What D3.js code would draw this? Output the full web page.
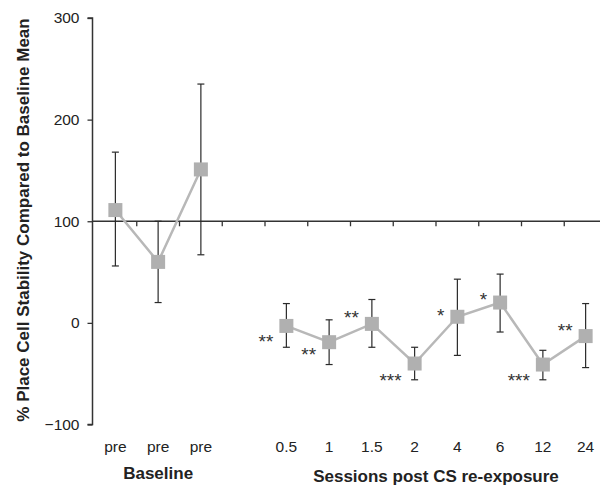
<!DOCTYPE html>
<html>
<head>
<meta charset="utf-8">
<script src="https://cdn.jsdelivr.net/npm/d3@7"></script>
<style>
  body { margin: 0; background: #fff; }
  text { font-family: "Liberation Sans", Arial, sans-serif; }
</style>
</head>
<body>
<div id="chart"></div>
<script>
// values (% stability vs baseline mean)
const labels = ["pre", "pre", "pre", "", "0.5", "1", "1.5", "2", "4", "6", "12", "24"];
const means = [111, 60, 151, null, -3, -19, -1, -40, 6, 20, -41, -13];
const upper = [168, 100, 235, null, 19, 3, 23, -24, 43, 48, -27, 19];
const lower = [56, 20, 67, null, -24, -41, -24, -56, -32, -9, -56, -44];
const stars = ["", "", "", "", "**", "**", "**", "***", "*", "*", "***", "**"];
const starY = [null, null, null, null, -15, -28, 9, -53, 11, 26, -53, -4];
const yTicks = [300, 200, 100, 0, -100];
const groups = [
  { name: "Baseline", from: 0, to: 2 },
  { name: "Sessions post CS re-exposure", from: 4, to: 11 }
];

const width = 600, height = 485;
const axisX = 92.5;

const svg = d3.select('#chart')
  .append('svg')
  .attr('width', width)
  .attr('height', height);

const x = d3.scaleBand()
  .domain(d3.range(labels.length))
  .range([94, 607]);
const cx = i => x(i) + x.bandwidth() / 2;

const y = d3.scaleLinear()
  .domain([-100, 300])
  .range([424.5, 18]);

// y axis
const yAxis = svg.append('g')
  .attr('transform', `translate(${axisX},0)`)
  .call(d3.axisLeft(y).tickValues(yTicks).tickSize(5).tickPadding(8));
yAxis.select('.domain').attr('stroke', '#333').attr('stroke-width', 1.5)
  .attr('d', `M-5,${y(300)}H0V${y(-100)}H-5`);
yAxis.selectAll('.tick line').attr('stroke', '#333').attr('stroke-width', 1.3);
yAxis.selectAll('.tick text')
  .attr('font-size', '15.5px')
  .attr('fill', '#222')
  .attr('font-family', '"Liberation Sans", Arial, sans-serif');

// horizontal reference axis at 100
const xAxis = svg.append('g')
  .attr('transform', `translate(0,${y(100)})`);
xAxis.append('line')
  .attr('x1', axisX).attr('x2', 607)
  .attr('stroke', '#333').attr('stroke-width', 1.5);
xAxis.selectAll('line.tk')
  .data(d3.range(1, labels.length))
  .enter()
  .append('line')
  .attr('class', 'tk')
  .attr('x1', d => x(d)).attr('x2', d => x(d))
  .attr('y1', 0).attr('y2', 5)
  .attr('stroke', '#333').attr('stroke-width', 1.3);

// category labels
svg.selectAll('text.cat')
  .data(labels)
  .enter()
  .append('text')
  .attr('class', 'cat')
  .attr('x', (d, i) => cx(i))
  .attr('y', 452)
  .attr('text-anchor', 'middle')
  .attr('font-size', '15.5px')
  .attr('fill', '#222')
  .text(d => d);

// group titles
svg.selectAll('text.grp')
  .data(groups)
  .enter()
  .append('text')
  .attr('class', 'grp')
  .attr('x', d => (cx(d.from) + cx(d.to)) / 2)
  .attr('y', (d, i) => i === 0 ? 479 : 482)
  .attr('text-anchor', 'middle')
  .attr('font-size', '17px')
  .attr('font-weight', 'bold')
  .attr('fill', '#222')
  .text(d => d.name);

// y title
svg.append('text')
  .attr('transform', 'translate(28.5,220) rotate(-90)')
  .attr('text-anchor', 'middle')
  .attr('font-size', '17px')
  .attr('font-weight', 'bold')
  .attr('fill', '#222')
  .text('% Place Cell Stability Compared to Baseline Mean');

const pts = means.map((m, i) => ({ i, m, hi: upper[i], lo: lower[i] }))
  .filter(d => d.m !== null);

// error bars
const eb = svg.append('g').attr('stroke', '#2a2a2a').attr('stroke-width', 1.2);
pts.forEach(d => {
  eb.append('line')
    .attr('x1', cx(d.i)).attr('x2', cx(d.i))
    .attr('y1', y(d.hi)).attr('y2', y(d.lo));
  [d.hi, d.lo].forEach(v => {
    eb.append('line')
      .attr('x1', cx(d.i) - 3.5).attr('x2', cx(d.i) + 3.5)
      .attr('y1', y(v)).attr('y2', y(v));
  });
});

// connecting line (gap between baseline and sessions)
const line = d3.line()
  .defined(d => d.m !== null)
  .x(d => cx(d.i))
  .y(d => y(d.m));
svg.append('path')
  .datum(means.map((m, i) => ({ i, m })))
  .attr('d', line)
  .attr('fill', 'none')
  .attr('stroke', '#b8b8b8')
  .attr('stroke-width', 2.5);

// square markers
svg.selectAll('rect.mk')
  .data(pts)
  .enter()
  .append('rect')
  .attr('class', 'mk')
  .attr('x', d => cx(d.i) - 7)
  .attr('y', d => y(d.m) - 7)
  .attr('width', 14)
  .attr('height', 14)
  .attr('fill', '#b0b0b0');

// significance stars
svg.selectAll('text.sig')
  .data(stars.map((s, i) => ({ s, i, v: starY[i] })).filter(d => d.s))
  .enter()
  .append('text')
  .attr('class', 'sig')
  .attr('x', d => cx(d.i) - 13)
  .attr('y', d => y(d.v) + 10)
  .attr('text-anchor', 'end')
  .attr('font-size', '19px')
  .attr('fill', '#333')
  .text(d => d.s);
</script>
</body>
</html>
